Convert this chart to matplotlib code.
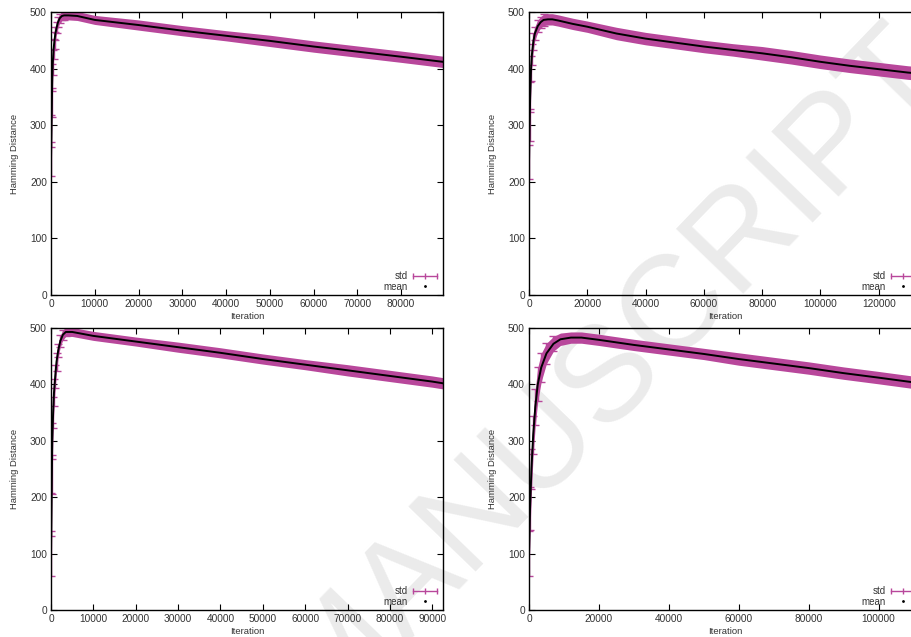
import numpy as np
import matplotlib
matplotlib.use("Agg")
import matplotlib.pyplot as plt
from matplotlib.lines import Line2D
from matplotlib.legend_handler import HandlerLine2D

plt.rcParams['font.family'] = ['Liberation Sans', 'DejaVu Sans']

# ---- data (iteration, mean, std) ----
it_a = [0, 100, 200, 300, 400, 600, 800, 1000, 1300, 1600, 2000, 2500, 3000, 4000, 6000,
        10000, 20000, 30000, 40000, 50000, 60000, 70000, 80000, 89500]
mean_a = [240, 290, 340, 385, 410, 435, 450, 462, 473, 482, 489, 493, 494, 494, 493,
          486, 477, 467, 458, 449, 439, 430, 421, 412]
std_a = [30, 28, 26, 24, 22, 18, 15, 12, 10, 9, 8, 8, 8, 8, 8,
         8, 9, 9, 9, 10, 10, 10, 10, 10]

it_b = [0, 200, 400, 700, 1000, 1500, 2000, 3000, 4000, 5000, 6500, 8000, 10000, 15000,
        20000, 30000, 40000, 50000, 60000, 70000, 80000, 90000, 100000, 110000, 120000,
        130000, 134500]
mean_b = [235, 300, 350, 400, 425, 448, 462, 475, 482, 486, 487, 487, 485, 479,
          474, 462, 453, 446, 439, 433, 427, 420, 412, 405, 399, 393, 391]
std_b = [30, 28, 26, 22, 18, 15, 12, 11, 10, 10, 10, 10, 10, 10,
         10, 11, 11, 11, 11, 11, 12, 12, 12, 12, 12, 12, 12]

it_c = [0, 100, 200, 300, 500, 700, 1000, 1300, 1700, 2200, 2800, 3500, 5000,
        10000, 20000, 30000, 40000, 50000, 60000, 70000, 80000, 90000, 92500]
mean_c = [100, 170, 240, 300, 350, 385, 414, 440, 460, 477, 488, 493, 493,
          486, 476, 466, 456, 445, 435, 425, 415, 405, 402]
std_c = [40, 38, 35, 32, 28, 24, 20, 16, 12, 10, 9, 8, 8,
         8, 8, 9, 9, 9, 9, 10, 10, 10, 10]

it_d = [0, 300, 700, 1200, 1800, 2500, 3500, 5000, 7000, 9000, 12000, 15000,
        20000, 30000, 40000, 50000, 60000, 70000, 80000, 90000, 100000, 112000]
mean_d = [100, 180, 250, 310, 360, 400, 430, 455, 472, 480, 483, 483,
          479, 470, 462, 454, 445, 437, 429, 420, 412, 402]
std_d = [40, 38, 36, 34, 32, 30, 25, 18, 13, 11, 10, 10,
         10, 10, 10, 10, 11, 11, 11, 11, 11, 11]

panels = [
    (it_a, mean_a, std_a, 89570, np.arange(0, 80001, 10000), 3200),
    (it_b, mean_b, std_b, 134500, np.arange(0, 120001, 20000), 5000),
    (it_c, mean_c, std_c, 92540, np.arange(0, 90001, 10000), 3600),
    (it_d, mean_d, std_d, 112150, np.arange(0, 100001, 20000), 7500),
]

W, H = 912, 637
fig = plt.figure(figsize=(W / 100, H / 100), dpi=100)

# axes boxes in pixels: left, top, right, bottom
boxes = [(51, 12, 443, 295), (529, 12, 921, 295),
         (51, 328, 443, 610), (529, 328, 921, 610)]

pink = '#b8479b'
txt = '#333333'

for (its, mu, sd, xmax, xt, rise_end), (l, t, r, b) in zip(panels, boxes):
    ax = fig.add_axes([l / W, 1 - b / H, (r - l) / W, (b - t) / H])
    ax.set_facecolor('none')
    its = np.array(its)
    mu = np.array(mu)
    sd = np.array(sd)
    ax.fill_between(its, mu - sd, mu + sd, color=pink, lw=0, zorder=2)
    # error bars only in the steep start, where they spread sideways
    early = its <= rise_end
    ax.errorbar(its[early], mu[early], yerr=sd[early], fmt='none', ecolor=pink,
                elinewidth=1, capsize=3, capthick=1, zorder=2)
    ax.plot(its, mu, color='black', lw=1.4, zorder=3)

    ax.set_xlim(0, xmax)
    ax.set_ylim(0, 500)
    ax.set_xticks(xt)
    ax.set_yticks(np.arange(0, 501, 100))
    ax.tick_params(direction='in', length=4, width=0.8, top=True, right=True,
                   labelsize=7.3, colors='black', labelcolor=txt, pad=3)
    for s in ax.spines.values():
        s.set_linewidth(1)
    ax.set_xlabel('Iteration', fontsize=6.8, color=txt, labelpad=2)
    ax.set_ylabel('Hamming Distance', fontsize=6.8, color=txt, labelpad=8)

    h_std = Line2D([0], [0], color=pink, lw=1, marker='|', ms=4)
    h_mean = Line2D([0], [0], color='black', ls='none', marker='.', ms=2)
    ax.legend([h_std, h_mean], ['std', 'mean'], loc='lower right',
              frameon=False, markerfirst=False, fontsize=7,
              handlelength=3.0, handletextpad=0.3, labelspacing=0.05,
              borderaxespad=0.05, borderpad=0.3, labelcolor=txt,
              handler_map={h_std: HandlerLine2D(numpoints=3),
                           h_mean: HandlerLine2D(numpoints=1)})

fig.text(0.67, 0.42, 'MANUSCRIPT', fontsize=98, color='#ebebeb',
         rotation=46, ha='center', va='center', zorder=-1)

fig.savefig('out.png', dpi=100, facecolor='white')
